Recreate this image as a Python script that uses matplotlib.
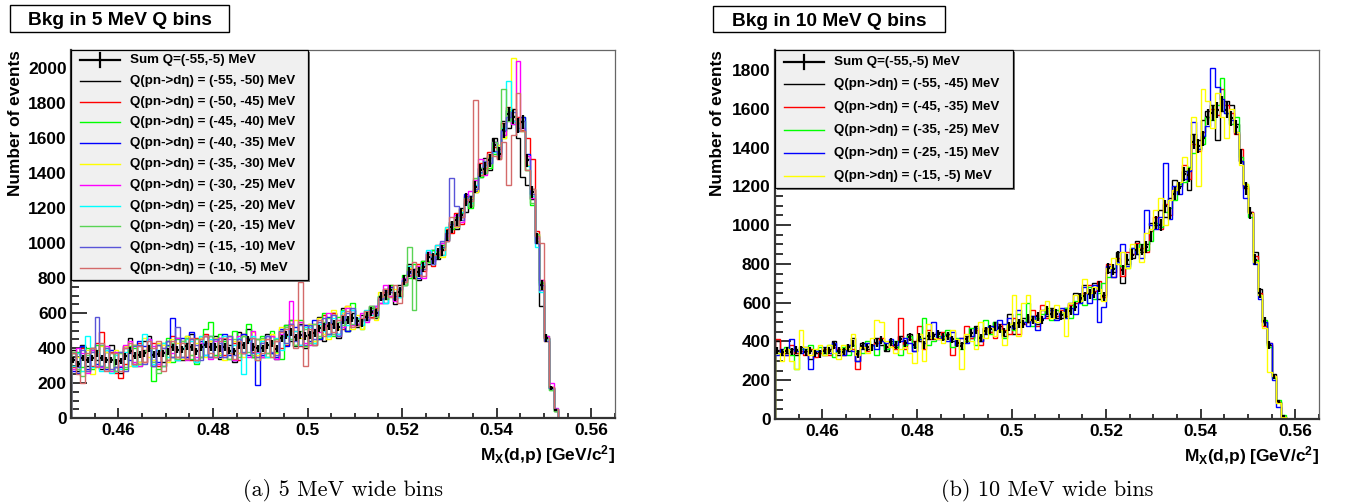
import numpy as np
import matplotlib
matplotlib.use("Agg")
import matplotlib.pyplot as plt
from matplotlib.patches import Rectangle
from matplotlib.lines import Line2D
from matplotlib.ticker import MultipleLocator, FuncFormatter

# Missing mass M_X(d,p) binning, 1 MeV bins
MX_LOW = 0.45
MX_HIGH = 0.565
N_BINS = 115

# ---- 5 MeV Q bins ----
SUM_5 = [
    331, 309, 343, 331, 343, 371, 343, 331, 331, 322,
    326, 352, 386, 356, 362, 371, 400, 362, 368, 371,
    381, 405, 390, 394, 409, 405, 381, 405, 420, 406,
    406, 400, 406, 386, 381, 417, 417, 446, 406, 400,
    400, 417, 424, 395, 455, 474, 493, 461, 474, 469,
    474, 488, 512, 520, 524, 535, 523, 560, 560, 571,
    552, 543, 580, 609, 600, 693, 703, 731, 693, 721,
    788, 836, 826, 836, 864, 921, 912, 940, 960, 1045,
    1093, 1131, 1160, 1250, 1236, 1322, 1417, 1426, 1474, 1560,
    1512, 1645, 1740, 1722, 1674, 1693, 1474, 1293, 1028, 760,
    457, 171, 46]

Q5_RANGES = ["(-55, -50)", "(-50, -45)", "(-45, -40)", "(-40, -35)", "(-35, -30)",
             "(-30, -25)", "(-25, -20)", "(-20, -15)", "(-15, -10)", "(-10, -5)"]

Q5_H1 = [
    390, 270, 420, 300, 400, 330, 280, 380, 420, 290,
    260, 410, 460, 300, 320, 440, 470, 300, 420, 320,
    440, 350, 460, 330, 430, 480, 320, 460, 470, 350,
    470, 340, 450, 420, 320, 490, 370, 510, 350, 450,
    350, 480, 370, 340, 500, 530, 440, 410, 540, 400,
    530, 420, 580, 440, 540, 600, 460, 630, 500, 600,
    520, 590, 560, 640, 570, 680, 740, 700, 650, 760,
    760, 880, 800, 790, 900, 880, 960, 910, 1000, 1010,
    1120, 1080, 1200, 1180, 1270, 1290, 1380, 1490, 1420, 1600,
    1540, 1700, 1660, 1770, 1600, 1380, 1330, 1250, 1000, 640,
    460, 170, 40]
Q5_H2 = [
    290, 370, 400, 270, 300, 430, 490, 280, 380, 260,
    230, 310, 380, 420, 430, 320, 400, 430, 300, 400,
    330, 470, 350, 440, 350, 330, 460, 350, 480, 440,
    350, 460, 360, 470, 430, 330, 480, 450, 380, 350,
    440, 370, 470, 440, 400, 420, 560, 500, 410, 530,
    430, 540, 450, 590, 480, 600, 470, 510, 640, 530,
    530, 560, 600, 580, 630, 660, 720, 760, 680, 700,
    780, 850, 800, 880, 840, 940, 870, 990, 930, 1080,
    1060, 1170, 1110, 1270, 1210, 1300, 1460, 1400, 1520, 1550,
    1480, 1690, 1780, 1700, 1720, 1650, 1600, 1480, 1070, 790,
    440, 180, 50]
Q5_H3 = [
    370, 380, 290, 400, 280, 420, 300, 400, 270, 370,
    380, 280, 410, 400, 300, 380, 420, 210, 280, 430,
    460, 320, 450, 350, 470, 340, 310, 350, 510, 550,
    360, 480, 440, 340, 500, 370, 470, 540, 350, 330,
    470, 350, 500, 380, 340, 530, 560, 420, 560, 410,
    540, 440, 460, 600, 470, 470, 580, 620, 500, 660,
    560, 510, 610, 630, 590, 700, 680, 760, 720, 690,
    820, 800, 880, 820, 900, 890, 960, 920, 990, 1030,
    1080, 1150, 1170, 1230, 1200, 1360, 1380, 1470, 1430, 1510,
    1560, 1600, 1760, 1680, 1700, 1720, 1420, 1220, 1010, 770,
    470, 160, 40]
Q5_H4 = [
    270, 260, 410, 280, 390, 310, 420, 280, 390, 270,
    290, 400, 330, 310, 440, 410, 450, 330, 320, 300,
    420, 570, 330, 460, 350, 490, 330, 440, 360, 470,
    450, 350, 480, 360, 330, 430, 480, 360, 460, 190,
    360, 470, 370, 350, 510, 410, 540, 520, 420, 530,
    440, 560, 450, 540, 580, 520, 480, 600, 500, 620,
    540, 560, 580, 600, 640, 690, 660, 750, 700, 740,
    790, 830, 850, 800, 880, 950, 900, 930, 980, 1020,
    1110, 1090, 1150, 1280, 1250, 1300, 1430, 1450, 1500, 1580,
    1520, 1640, 1760, 1700, 1660, 1720, 1510, 1310, 1040, 760,
    460, 170, 50]
Q5_H5 = [
    380, 350, 270, 390, 250, 370, 410, 380, 280, 390,
    370, 410, 300, 420, 320, 460, 350, 330, 430, 420,
    320, 450, 430, 340, 470, 360, 430, 460, 350, 440,
    460, 370, 330, 470, 440, 370, 350, 460, 490, 360,
    450, 350, 480, 370, 520, 430, 500, 560, 460, 420,
    540, 440, 570, 480, 450, 620, 510, 600, 640, 510,
    590, 510, 600, 620, 560, 720, 700, 690, 740, 710,
    760, 860, 810, 870, 850, 900, 940, 950, 920, 1090,
    1100, 1090, 1190, 1240, 1260, 1290, 1400, 1420, 1500, 1520,
    1560, 1600, 1760, 2060, 1700, 1640, 1450, 1310, 1050, 740,
    440, 180, 50]
Q5_H6 = [
    280, 400, 370, 260, 390, 300, 290, 410, 270, 380,
    300, 420, 440, 320, 300, 390, 450, 410, 310, 380,
    400, 370, 460, 350, 330, 440, 350, 430, 470, 340,
    440, 460, 350, 450, 330, 470, 370, 350, 500, 380,
    350, 450, 470, 340, 480, 510, 670, 470, 550, 430,
    420, 510, 490, 520, 600, 480, 560, 520, 630, 530,
    540, 600, 550, 600, 640, 660, 760, 700, 670, 730,
    800, 810, 850, 870, 800, 950, 900, 960, 1000, 1040,
    1100, 1160, 1120, 1230, 1300, 1360, 1480, 1390, 1460, 1580,
    1500, 1620, 1700, 1680, 2040, 1660, 1500, 1260, 1030, 790,
    470, 200, 60]
Q5_H7 = [
    300, 370, 270, 470, 290, 380, 270, 390, 260, 360,
    280, 380, 400, 300, 410, 480, 420, 310, 390, 430,
    350, 420, 330, 400, 450, 440, 320, 470, 360, 450,
    350, 440, 470, 370, 420, 460, 250, 440, 470, 370,
    440, 350, 430, 460, 390, 470, 450, 500, 420, 520,
    520, 430, 540, 500, 470, 570, 480, 610, 530, 620,
    570, 530, 620, 590, 620, 700, 660, 730, 710, 690,
    760, 870, 810, 830, 880, 960, 880, 990, 930, 1090,
    1100, 1140, 1180, 1220, 1230, 1330, 1400, 1440, 1460, 1520,
    1520, 1660, 1930, 1700, 1650, 1700, 1440, 1270, 980, 720,
    450, 170, 50]
Q5_H8 = [
    380, 280, 240, 360, 400, 390, 420, 290, 370, 270,
    370, 290, 390, 420, 310, 390, 410, 320, 260, 300,
    410, 430, 340, 440, 460, 360, 450, 350, 430, 470,
    450, 360, 430, 340, 450, 350, 470, 380, 360, 450,
    460, 370, 350, 450, 470, 520, 450, 420, 500, 510,
    430, 540, 470, 550, 570, 480, 550, 530, 570, 540,
    560, 560, 590, 640, 580, 700, 680, 740, 710, 730,
    760, 980, 620, 860, 870, 900, 940, 930, 970, 1030,
    1120, 1100, 1150, 1260, 1210, 1370, 1430, 1400, 1490, 1580,
    1490, 1880, 1700, 1730, 1690, 1640, 1420, 1230, 1050, 780,
    460, 160, 40]
Q5_H9 = [
    370, 290, 390, 270, 380, 580, 300, 400, 280, 290,
    380, 270, 370, 410, 420, 310, 390, 300, 420, 400,
    440, 350, 520, 350, 340, 450, 420, 330, 430, 350,
    450, 430, 350, 470, 360, 450, 380, 460, 370, 350,
    430, 470, 380, 360, 500, 430, 540, 440, 530, 420,
    530, 450, 550, 570, 480, 590, 470, 560, 600, 630,
    530, 570, 560, 620, 590, 680, 730, 720, 680, 740,
    790, 840, 850, 820, 850, 920, 880, 930, 1010, 1060,
    1370, 1210, 1130, 1240, 1270, 1310, 1410, 1470, 1460, 1530,
    1510, 1650, 1720, 1750, 1640, 1700, 1480, 1280, 1000, 730,
    440, 170, 50]
Q5_H10 = [
    370, 250, 200, 370, 400, 290, 430, 270, 370, 370,
    270, 400, 430, 310, 410, 320, 440, 400, 440, 270,
    330, 440, 350, 430, 340, 460, 330, 450, 470, 370,
    350, 440, 460, 370, 340, 440, 370, 450, 460, 330,
    370, 450, 350, 440, 490, 510, 530, 400, 780, 300,
    510, 420, 560, 470, 540, 490, 560, 590, 610, 520,
    530, 570, 610, 570, 620, 690, 740, 690, 760, 660,
    780, 820, 890, 820, 810, 940, 930, 930, 960, 1010,
    1150, 1100, 1150, 1250, 1240, 1820, 1390, 1430, 1510, 1500,
    1480, 1580, 1330, 1620, 1860, 1640, 1420, 1310, 1040, 1000,
    460, 180, 50]

# ---- 10 MeV Q bins ----
SUM_10 = [
    352, 343, 352, 347, 356, 356, 343, 352, 338, 335,
    352, 352, 381, 352, 347, 369, 390, 335, 376, 369,
    369, 393, 407, 369, 398, 381, 410, 390, 421, 381,
    421, 381, 428, 428, 438, 424, 428, 410, 390, 376,
    410, 445, 459, 416, 455, 462, 476, 467, 450, 476,
    479, 493, 490, 519, 510, 531, 510, 559, 542, 542,
    536, 545, 559, 580, 623, 632, 645, 652, 683, 632,
    778, 773, 838, 769, 821, 847, 873, 873, 886, 941,
    1013, 1001, 1096, 1062, 1161, 1190, 1264, 1259, 1431, 1409,
    1448, 1557, 1577, 1594, 1625, 1594, 1551, 1505, 1354, 1190,
    1062, 821, 649, 503, 383, 219, 91, 14]

Q10_RANGES = ["(-55, -45)", "(-45, -35)", "(-35, -25)", "(-25, -15)", "(-15, -5)"]

Q10_H1 = [
    400, 330, 340, 360, 330, 370, 350, 310, 340, 350,
    330, 360, 400, 330, 360, 350, 420, 300, 390, 360,
    380, 420, 380, 350, 400, 370, 430, 380, 440, 350,
    400, 420, 410, 440, 450, 410, 440, 400, 380, 390,
    430, 420, 480, 400, 470, 450, 500, 480, 430, 540,
    440, 500, 520, 500, 530, 490, 560, 530, 570, 520,
    520, 570, 600, 650, 620, 690, 650, 700, 620, 640,
    760, 760, 860, 700, 800, 830, 920, 860, 900, 1010,
    1000, 1080, 1040, 1140, 1230, 1200, 1280, 1180, 1470, 1440,
    1540, 1590, 1620, 1440, 1590, 1640, 1620, 1520, 1330, 1200,
    1070, 860, 670, 500, 380, 230, 90, 10]
Q10_H2 = [
    410, 340, 330, 380, 340, 350, 330, 360, 320, 340,
    360, 330, 370, 360, 330, 380, 360, 260, 370, 350,
    380, 390, 420, 370, 380, 360, 520, 360, 410, 400,
    480, 360, 460, 410, 420, 450, 430, 330, 380, 420,
    480, 420, 460, 380, 470, 450, 420, 490, 460, 440,
    520, 440, 490, 500, 560, 480, 590, 520, 560, 530,
    560, 530, 590, 600, 640, 650, 690, 660, 710, 630,
    800, 730, 830, 740, 860, 850, 910, 880, 860, 970,
    1040, 980, 1110, 1050, 1180, 1210, 1310, 1240, 1420, 1380,
    1480, 1560, 1600, 1570, 1700, 1620, 1580, 1470, 1390, 1190,
    1070, 840, 650, 480, 390, 220, 90, 10]
Q10_H3 = [
    340, 350, 370, 330, 260, 360, 360, 380, 350, 370,
    340, 380, 320, 350, 370, 330, 380, 350, 340, 400,
    380, 330, 400, 360, 390, 400, 330, 380, 430, 370,
    420, 520, 380, 400, 430, 420, 460, 370, 420, 360,
    400, 470, 380, 430, 510, 440, 500, 460, 420, 490,
    460, 540, 500, 600, 480, 520, 540, 570, 510, 560,
    540, 570, 520, 610, 640, 590, 680, 620, 650, 700,
    730, 780, 810, 790, 780, 880, 850, 900, 870, 920,
    1010, 990, 1070, 1090, 1130, 1210, 1220, 1300, 1370, 1390,
    1420, 1560, 1540, 1620, 1760, 1580, 1520, 1560, 1350, 1210,
    1040, 820, 640, 510, 370, 210, 100, 20]
Q10_H4 = [
    330, 360, 330, 410, 350, 340, 370, 260, 350, 350,
    370, 340, 390, 350, 330, 380, 350, 300, 360, 390,
    380, 360, 400, 390, 410, 380, 400, 420, 390, 350,
    410, 390, 430, 500, 410, 430, 400, 450, 380, 420,
    390, 430, 470, 400, 440, 480, 460, 510, 490, 520,
    470, 560, 500, 480, 530, 460, 520, 540, 560, 510,
    570, 520, 570, 540, 600, 680, 600, 690, 500, 580,
    790, 730, 810, 900, 790, 880, 850, 830, 1080, 1000,
    980, 1040, 1320, 1030, 1200, 1160, 1240, 1280, 1530, 1390,
    1460, 1510, 1810, 1710, 1650, 1580, 1540, 1480, 1330, 1140,
    1060, 800, 620, 500, 390, 200, 60, 0]
Q10_H5 = [
    340, 300, 360, 300, 260, 460, 370, 330, 360, 380,
    330, 380, 340, 310, 380, 360, 440, 330, 370, 340,
    420, 510, 500, 400, 370, 340, 360, 370, 340, 290,
    440, 300, 490, 420, 410, 390, 430, 460, 410, 260,
    440, 400, 360, 500, 420, 470, 430, 460, 380, 490,
    640, 430, 600, 640, 510, 500, 560, 610, 520, 590,
    550, 430, 600, 640, 610, 720, 650, 680, 670, 610,
    780, 830, 800, 860, 780, 900, 880, 810, 960, 980,
    1080, 1140, 1000, 1130, 1180, 1220, 1350, 1290, 1560, 1200,
    1700, 1640, 1500, 1680, 1560, 1450, 1600, 1480, 1310, 1210,
    1060, 810, 640, 470, 240, 220, 80, 10]

# ROOT palette used for the Q slices
COLORS_5 = ["#000000", "#ff0000", "#00ff00", "#0000ff", "#ffff00",
            "#ff00ff", "#00ffff", "#59d454", "#5954d8", "#d46a6a"]
COLORS_10 = ["#000000", "#ff0000", "#00ff00", "#0000ff", "#ffff00"]

W, H = 1346, 504
EDGES = np.linspace(MX_LOW, MX_HIGH, N_BINS + 1)
CENTERS = 0.5 * (EDGES[:-1] + EDGES[1:])

plt.rcParams["font.family"] = ["Liberation Sans", "DejaVu Sans"]
plt.rcParams["font.weight"] = "bold"
plt.rcParams["mathtext.fontset"] = "custom"
plt.rcParams["mathtext.rm"] = "Liberation Sans:bold"
plt.rcParams["mathtext.it"] = "Liberation Sans:bold"
plt.rcParams["mathtext.bf"] = "Liberation Sans:bold"


def fx(px):
    return px / W


def fy(py):
    return 1 - py / H


def full(vals):
    """pad a histogram with empty bins up to the full range"""
    out = np.zeros(N_BINS)
    out[:len(vals)] = vals
    return out


def draw_key(box, rows, colors, ranges):
    """ROOT-style TLegend drawn in figure pixels: box=(x0, y0, x1, y1)"""
    x0, y0, x1, y1 = box
    fig.add_artist(Rectangle((fx(x0 + 2), fy(y1 + 2)), fx(x1 - x0), (y1 - y0) / H,
                             transform=fig.transFigure, facecolor="#777777",
                             edgecolor="none", zorder=20))
    fig.add_artist(Rectangle((fx(x0), fy(y1)), fx(x1 - x0), (y1 - y0) / H,
                             transform=fig.transFigure, facecolor="#f0f0f0",
                             edgecolor="black", lw=0.9, zorder=21))
    hx0, hx1, tx = x0 + 9, x0 + 49, x0 + 59
    labels = ["Sum Q=(-55,-5) MeV"] + [f"Q(pn->d\u03b7) = {r} MeV" for r in ranges]
    line_colors = ["black"] + list(colors)
    for i, (lab, c) in enumerate(zip(labels, line_colors)):
        y = rows[0] + rows[1] * i
        lw = 1.6 if i == 0 else 1.0
        fig.add_artist(Line2D([fx(hx0), fx(hx1)], [fy(y), fy(y)], color=c, lw=lw,
                              transform=fig.transFigure, zorder=22))
        if i == 0:
            xm = 0.5 * (hx0 + hx1)
            fig.add_artist(Line2D([fx(xm), fx(xm)], [fy(y - 7), fy(y + 7)], color=c,
                                  lw=1.6, transform=fig.transFigure, zorder=22))
        fig.text(fx(tx), fy(y), lab, ha="left", va="center", fontsize=9.6,
                 fontweight="bold", zorder=23)


def draw_panel(ax, sum_vals, hists, colors, ymax):
    for h, c in zip(hists, colors):
        ax.stairs(full(h), EDGES, color=c, lw=1.0, zorder=2)

    s = full(sum_vals)
    m = s > 0
    ax.errorbar(CENTERS[m], s[m], yerr=np.sqrt(s[m]), xerr=0.0003, fmt="none",
                ecolor="black", elinewidth=1.6, capsize=0, zorder=4)

    ax.set_xlim(MX_LOW, MX_HIGH)
    ax.set_ylim(0, ymax)
    ax.xaxis.set_major_locator(MultipleLocator(0.02))
    ax.xaxis.set_minor_locator(MultipleLocator(0.005))
    ax.yaxis.set_major_locator(MultipleLocator(200))
    ax.yaxis.set_minor_locator(MultipleLocator(50))
    ax.xaxis.set_major_formatter(FuncFormatter(lambda v, p: f"{v:g}"))
    ax.yaxis.set_major_formatter(FuncFormatter(lambda v, p: f"{v:.0f}"))
    ax.tick_params(axis="x", which="major", direction="in", length=7.5, width=1.1,
                   labelsize=12.5, pad=3.5)
    ax.tick_params(axis="x", which="minor", direction="in", length=3.8, width=1.1)
    ax.tick_params(axis="y", which="major", direction="in", length=11.5, width=1.1,
                   labelsize=12.5, pad=3)
    ax.tick_params(axis="y", which="minor", direction="in", length=5.8, width=1.1)
    for side in ("left", "bottom"):
        ax.spines[side].set_linewidth(1.6)
        ax.spines[side].set_color("#333333")
    for side in ("top", "right"):
        ax.spines[side].set_linewidth(0.9)
        ax.spines[side].set_color("#666666")

    # axis title sits under the right end of the axis, as in ROOT
    ax.text(1.0, -42 / (ax.get_position().height * H), r"M$_X$(d,p) [GeV/c$^2$]",
            transform=ax.transAxes, ha="right", va="baseline", fontsize=12.5,
            fontweight="bold")


fig = plt.figure(figsize=(W / 100, H / 100), dpi=100)
ax_a = fig.add_axes([fx(71), 86 / H, 544 / W, 368 / H])
ax_b = fig.add_axes([fx(775), 85 / H, 544 / W, 369 / H])

draw_panel(ax_a, SUM_5,
           [Q5_H1, Q5_H2, Q5_H3, Q5_H4, Q5_H5, Q5_H6, Q5_H7, Q5_H8, Q5_H9, Q5_H10],
           COLORS_5, 2105)
draw_panel(ax_b, SUM_10, [Q10_H1, Q10_H2, Q10_H3, Q10_H4, Q10_H5],
           COLORS_10, 1903)

draw_key((71, 50, 308, 280), (60, 20.8), COLORS_5, Q5_RANGES)
draw_key((775, 50, 1013, 188), (61.5, 22.9), COLORS_10, Q10_RANGES)


def title_box(x0, y0, x1, y1, text):
    fig.add_artist(Rectangle((fx(x0), fy(y1)), fx(x1 - x0), (y1 - y0) / H,
                             transform=fig.transFigure, facecolor="white",
                             edgecolor="black", lw=1.0))
    fig.text(fx((x0 + x1) / 2), fy((y0 + y1) / 2), text, ha="center",
             va="center_baseline", fontsize=13.8, fontweight="bold")


title_box(10, 5, 229, 32, "Bkg in 5 MeV Q bins")
title_box(713, 6, 945, 32, "Bkg in 10 MeV Q bins")

for x in (15.5, 718):
    fig.text(fx(x), fy(50), "Number of events", rotation=90, ha="center",
             va="top", fontsize=12.4, fontweight="bold")

fig.text(fx(343), fy(496.5), "(a) 5 MeV wide bins", ha="center",
         va="baseline", fontsize=16, family="cmr10", fontweight="normal")
fig.text(fx(1047), fy(496.5), "(b) 10 MeV wide bins", ha="center",
         va="baseline", fontsize=16, family="cmr10", fontweight="normal")

fig.savefig("out.png", dpi=100)
